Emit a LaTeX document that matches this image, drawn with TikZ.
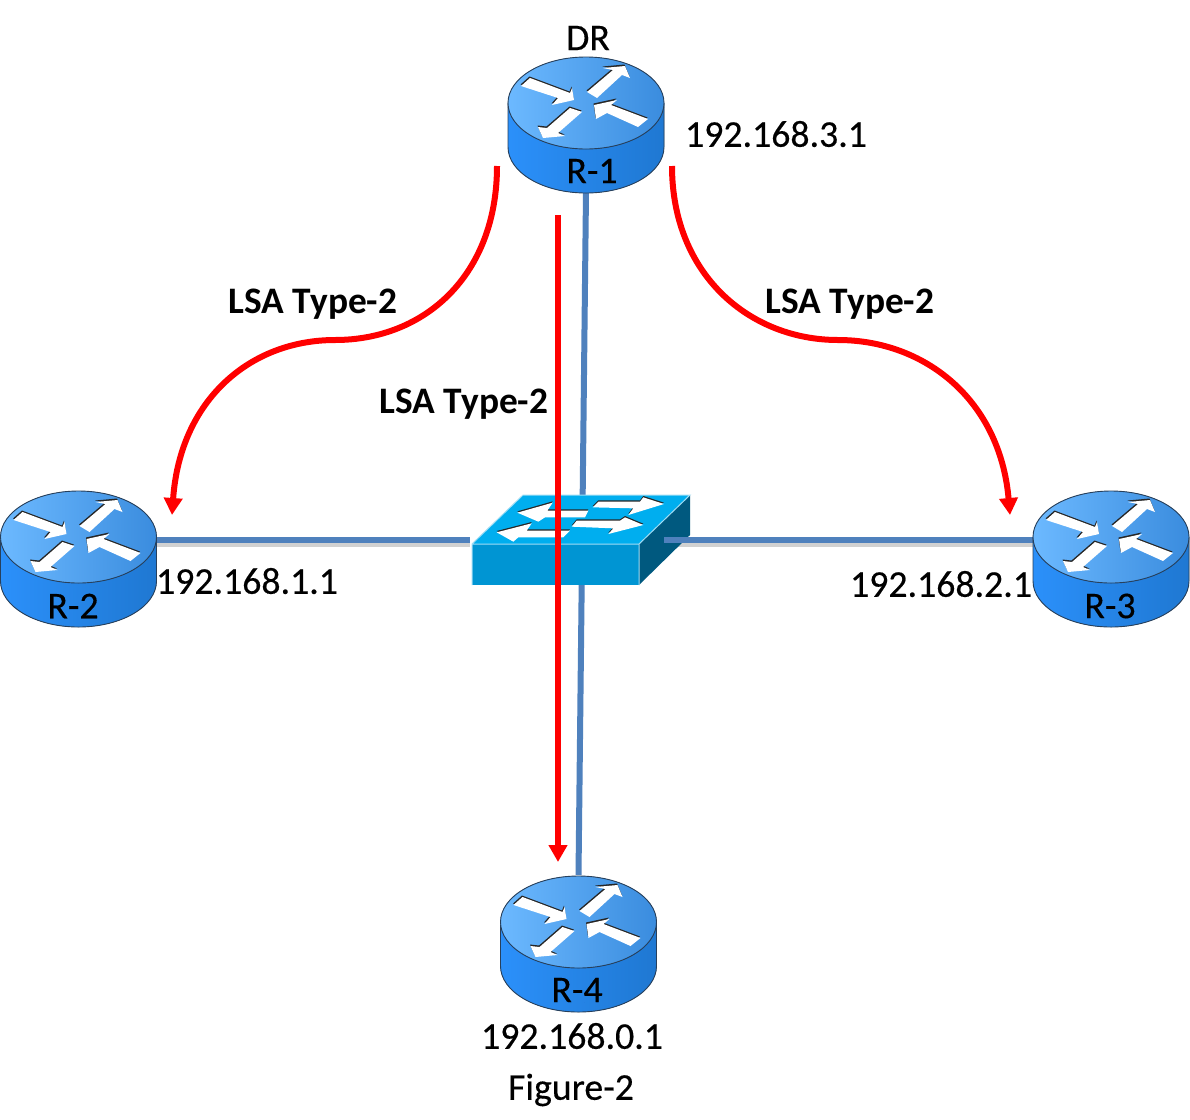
\documentclass[tikz,border=0pt]{standalone}
\usepackage{fontspec}
\setmainfont{Carlito}
\newfontfamily\lab[FakeBold=0.35]{Carlito}
\usetikzlibrary{arrows.meta,calc}
\definecolor{linkblue}{HTML}{4F81BD}
\definecolor{topL}{HTML}{6CB9FF}
\definecolor{topR}{HTML}{3A8CDE}
\definecolor{sideL}{HTML}{2B90FA}
\definecolor{sideR}{HTML}{1F78D2}
\definecolor{edgeC}{HTML}{27405C}
\definecolor{swTop}{HTML}{00AEEF}
\definecolor{swFront}{HTML}{0095D3}
\definecolor{swSide}{HTML}{00597F}
\definecolor{swEdge}{HTML}{9FDDF5}
\tikzset{
  x=1pt,y=-1pt,
  txt/.style={font=\fontsize{37.8}{40}\lab,inner sep=0pt,text=black},
  boldtxt/.style={font=\fontsize{37.4}{40}\selectfont\bfseries,inner sep=0pt,text=black},
  rbox/.style={minimum width=156pt,minimum height=136pt,inner sep=0pt,outer sep=0pt},
  swbox/.style={minimum width=218pt,minimum height=90pt,inner sep=0pt,outer sep=0pt},
  link/.style={linkblue,line width=6pt},
  linkshadow/.style={black!18,line width=4pt},
  lsa/.style={red,line width=6pt,-{Triangle[width=18pt,length=17pt]}},
  arrowshade/.style={fill=black!85},
  arrowfill/.style={fill=white},
  router/.pic={
    \fill[left color=sideL,right color=sideR,draw=edgeC,line width=0.9pt]
      (-78,0) -- (-78,44) arc[start angle=180,end angle=360,x radius=78pt,y radius=46pt] -- (78,0) -- cycle;
    \fill[left color=topL,right color=topR,draw=edgeC,line width=0.9pt]
      (0,0) ellipse[x radius=78pt,y radius=46pt];
    \foreach \dx/\dy/\st in {-0.5/-1.5/arrowshade,0/0/arrowfill}{
      \begin{scope}[shift={(\dx,\dy)}]
      \fill[\st] (-65,-17) -- (-56,-25) -- (-16,-10) -- (-14,-15) -- (-12,-3) -- (-34,2) -- (-28,-5) -- cycle;
      \fill[\st] (1,-11) -- (27,-33) -- (17,-35) -- (39,-37) -- (44,-25) -- (36,-28) -- (11,-5) -- cycle;
      \fill[\st] (8,2) -- (31,-3) -- (25,2) -- (62,16) -- (52,24) -- (21,10) -- (10,16) -- cycle;
      \fill[\st] (-4,9) -- (-16,5) -- (-39,25) -- (-48,24) -- (-43,35) -- (-21,33) -- (-28,30) -- cycle;
      \end{scope}
    }
  }
}
\begin{document}
\begin{tikzpicture}
\useasboundingbox (0,0) rectangle (1190,1119);
\fill[white] (0,0) rectangle (1190,1119);
% placement nodes
\node[rbox] (r1) at (586,124) {};
\node[rbox] (r2) at (78.5,558) {};
\node[rbox] (r3) at (1111,558) {};
\node[rbox] (r4) at (578.5,943) {};
\node[swbox] (sw) at (581,540) {};
\coordinate (swL) at (470,540);
\coordinate (swR) at (664,540);
\coordinate (lsaMidStart) at (558,215);
\coordinate (lsaMidEnd) at (558,862);
\coordinate (lsaLStart) at (497,166);
\coordinate (lsaRStart) at (672,166);
\coordinate (lsaLEnd) at (172,515);
\coordinate (lsaREnd) at (1010,515);
% links behind
\draw[linkshadow] ($(r2.east |- sw.west)+(0,5)$) -- ($(swL)+(0,5)$);
\draw[linkshadow] ($(r3.west |- sw.east)+(0,5)$) -- ($(swR)+(0,5)$);
\draw[link] (r1.south) -- (r4.north);
\draw[link] (r2.east |- sw.west) -- (swL);
% switch
\fill[swTop] (523,495) -- (690,495) -- (639,544) -- (472,544) -- cycle;
\fill[swFront] (472,544) rectangle (639,585);
\fill[swSide] (639,544) -- (690,495) -- (690,535) -- (639,585) -- cycle;
\draw[swEdge,line width=1pt] (472,585) -- (472,544) -- (523,495) -- (690,495) -- (639,544) -- (472,544) (639,544) -- (639,585);
\begin{scope}[shift={(460,480)},xscale=0.3333,yscale=0.3333]
  \foreach \dy/\st in {-4/arrowshade,0/arrowfill}{
  \begin{scope}[shift={(0,\dy)}]
  \fill[\st] (172,98) -- (278,68) -- (262,92) -- (385,92) -- (375,112) -- (255,112) -- (235,125) -- cycle;
  \fill[\st] (110,157) -- (215,130) -- (200,152) -- (330,152) -- (310,172) -- (175,172) -- (160,185) -- cycle;
  \fill[\st] (398,82) -- (415,65) -- (540,65) -- (550,52) -- (612,72) -- (505,105) -- (520,85) -- cycle;
  \fill[\st] (335,140) -- (350,122) -- (480,122) -- (495,112) -- (550,135) -- (445,162) -- (460,145) -- cycle;
  \end{scope}}
\end{scope}
\draw[link] (r3.west |- sw.east) -- (swR);
% routers
\pic at (586,103) {router};
\pic at (78.5,537) {router};
\pic at (1111,537) {router};
\pic at (578.5,922) {router};
% LSA flows
\draw[lsa] (lsaMidStart) -- (lsaMidEnd);
\draw[lsa] (lsaLStart) .. controls (497,275) and (425,340) .. (335,340) .. controls (250,340) and (180,400) .. (lsaLEnd);
\draw[lsa] (lsaRStart) .. controls (672,275) and (750,340) .. (838,340) .. controls (925,340) and (1000,400) .. (lsaREnd);
% labels
\node[txt] (tDR) at (588,38) {DR};
\node[txt] (t1) at (592,171) {R-1};
\node[txt] (t2) at (73,606) {R-2};
\node[txt] (t3) at (1110,606) {R-3};
\node[txt] (t4) at (577,990) {R-4};
\node[txt] (ip1) at (776,134) {192.168.3.1};
\node[txt] (ip2) at (247,581) {192.168.1.1};
\node[txt] (ip3) at (941,584) {192.168.2.1};
\node[txt] (ip4) at (572,1036) {192.168.0.1};
\node[txt] (fig) at (571,1090) {Figure-2};
\node[boldtxt] (l1) at (313,304) {LSA Type-2};
\node[boldtxt] (l2) at (850,304) {LSA Type-2};
\node[boldtxt] (l3) at (464,404) {LSA Type-2};
\end{tikzpicture}
\end{document}
